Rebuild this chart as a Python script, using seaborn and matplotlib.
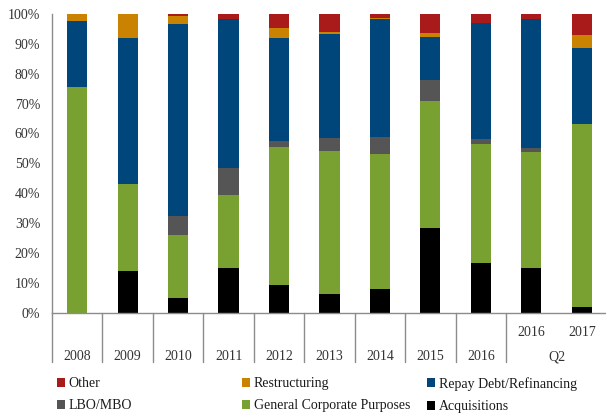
import matplotlib.pyplot as plt
import matplotlib.ticker as mticker
from matplotlib.patches import Patch
import numpy as np
import pandas as pd
import seaborn as sns

# ─── Data (share of issuance by use of proceeds, %) ──────────────────────────
periods = ["2008", "2009", "2010", "2011", "2012", "2013", "2014", "2015",
           "2016", "Q2 2016", "Q2 2017"]
acquisitions = [0.0, 13.8, 4.8, 14.8, 9.1, 6.1, 7.8, 28.4, 16.7, 14.8, 1.9]
general_corp = [75.5, 29.3, 21.0, 24.7, 46.5, 48.1, 45.3, 42.6, 39.8, 39.0, 61.1]
lbo_mbo = [0.0, 0.0, 6.6, 8.9, 1.9, 4.3, 5.8, 6.8, 1.7, 1.4, 0.3]
repay_debt = [22.2, 49.0, 64.3, 49.8, 34.6, 34.9, 39.4, 14.6, 38.8, 43.1, 25.4]
restructuring = [2.3, 7.9, 2.7, 0.0, 3.2, 0.6, 0.5, 1.4, 0.0, 0.0, 4.3]
other = [0.0, 0.0, 0.6, 1.8, 4.7, 6.0, 1.2, 6.2, 3.0, 1.7, 7.0]

top_labels = ["", "", "", "", "", "", "", "", "", "2016", "2017"]
bottom_labels = ["2008", "2009", "2010", "2011", "2012", "2013", "2014",
                 "2015", "2016"]

series = {
    "Acquisitions": acquisitions,
    "General Corporate Purposes": general_corp,
    "LBO/MBO": lbo_mbo,
    "Repay Debt/Refinancing": repay_debt,
    "Restructuring": restructuring,
    "Other": other,
}
colors = {
    "Acquisitions": "#000000",
    "General Corporate Purposes": "#78A132",
    "LBO/MBO": "#555555",
    "Repay Debt/Refinancing": "#00467A",
    "Restructuring": "#C98300",
    "Other": "#A81B1A",
}

sns.set_theme(style="white")
plt.rcParams["font.family"] = ["Liberation Serif", "DejaVu Serif"]
TXT = "#333333"
AXC = "#8C8C8C"

df = pd.DataFrame(series, index=periods)
cum = df.cumsum(axis=1)

fig = plt.figure(figsize=(6.06, 4.17), dpi=100)
ax = fig.add_axes([52 / 606, 1 - 312.5 / 417, 555 / 606, 298.5 / 417])

# stacked bars: draw cumulative totals from the top layer down
for name in reversed(list(series.keys())):
    sns.barplot(x=periods, y=cum[name].values, order=periods, color=colors[name],
                saturation=1, width=0.4, ax=ax, linewidth=0)

ax.set_ylim(0, 100)
ax.set_xlim(-0.5, len(periods) - 0.5)
ax.yaxis.set_major_locator(mticker.MultipleLocator(10))
ax.yaxis.set_major_formatter(mticker.FuncFormatter(lambda v, _: f"{int(v)}%"))
ax.tick_params(axis="y", length=0, pad=8.5, labelsize=10, labelcolor=TXT)
ax.tick_params(axis="x", length=0, labelbottom=False)
ax.set_xlabel("")
ax.set_ylabel("")
for s in ["top", "right"]:
    ax.spines[s].set_visible(False)
for s in ["left", "bottom"]:
    ax.spines[s].set_color(AXC)
    ax.spines[s].set_linewidth(1)

# multi-level category axis
trans = ax.get_xaxis_transform()
for xb in np.arange(-0.5, 9, 1.0):
    ax.plot([xb, xb], [0, -0.166], transform=trans, color=AXC, lw=1,
            clip_on=False)
for i, lab in enumerate(bottom_labels):
    ax.text(i, -0.149, lab, transform=trans, ha="center", va="center",
            fontsize=10, color=TXT)
for i, lab in enumerate(top_labels):
    if lab:
        ax.text(i, -0.067, lab, transform=trans, ha="center", va="center",
                fontsize=10, color=TXT)
ax.text(9.5, -0.149, "Q2", transform=trans, ha="center", va="center",
        fontsize=10, color=TXT)

# legend laid out in three fixed columns
legend_cols = [["Other", "LBO/MBO"],
               ["Restructuring", "General Corporate Purposes"],
               ["Repay Debt/Refinancing", "Acquisitions"]]
for x0, names in zip([57 / 606, 242 / 606, 427 / 606], legend_cols):
    handles = [Patch(facecolor=colors[n], edgecolor="none") for n in names]
    fig.legend(handles, names, loc="upper left", bbox_to_anchor=(x0, 1 - 377 / 417),
               frameon=False, fontsize=10, labelcolor="#1A1A1A", handlelength=0.6,
               handleheight=0.6, handletextpad=0.25, borderpad=0,
               borderaxespad=0, labelspacing=0.68)

fig.savefig("out.png", dpi=100)
